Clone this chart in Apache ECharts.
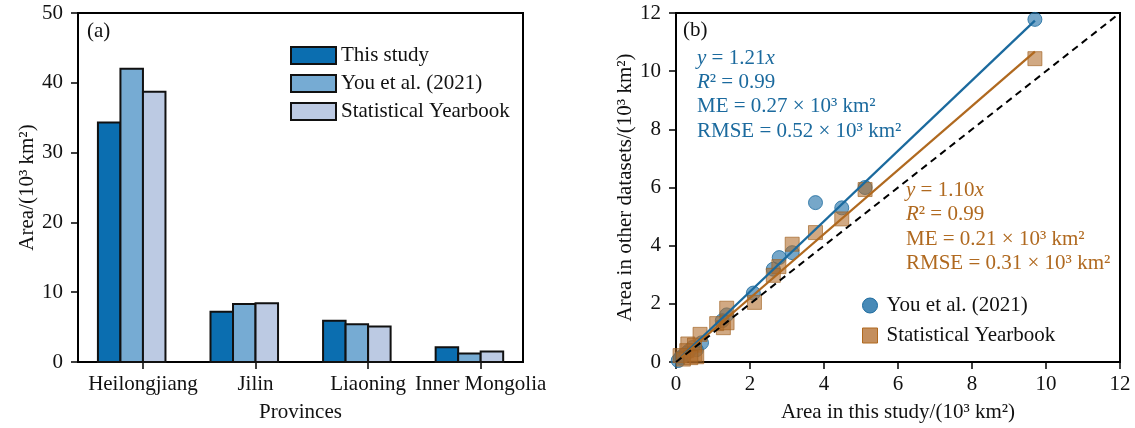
<!DOCTYPE html>
<html>
<head>
<meta charset="utf-8">
<title>Area comparison</title>
<script src="https://cdn.jsdelivr.net/npm/echarts@6/dist/echarts.min.js"></script>
<style>
  html, body { margin: 0; padding: 0; background: #fff; }
  #chart { width: 1135px; height: 428px; }
</style>
</head>
<body>
<div id="chart"></div>
<script>
// (a) bars, area in 10^3 km2
const provinces = ['Heilongjiang', 'Jilin', 'Liaoning', 'Inner Mongolia'];
const thisStudy = [34.3, 7.2, 5.9, 2.1];
const youEtAl = [42.0, 8.3, 5.4, 1.2];
const yearbook = [38.7, 8.4, 5.1, 1.5];
const barNames = ['This study', 'You et al. (2021)', 'Statistical Yearbook'];

// (b) scatter: [this study, other dataset]
const youPoints = [
  [9.70, 11.78], [5.11, 6.00], [4.48, 5.30], [3.77, 5.48], [2.79, 3.59],
  [3.14, 3.76], [2.63, 3.19], [2.09, 2.37], [1.37, 1.62], [1.25, 1.42],
  [0.69, 0.66], [0.55, 0.42], [0.45, 0.50], [0.35, 0.38], [0.28, 0.30],
  [0.20, 0.22], [0.12, 0.15], [0.06, 0.05]
];
const yearbookPoints = [
  [9.70, 10.43], [5.11, 5.93], [4.48, 4.92], [3.77, 4.45], [3.14, 4.05],
  [2.78, 3.28], [2.63, 2.98], [2.12, 2.05], [1.37, 1.85], [1.10, 1.32],
  [1.28, 1.18], [1.38, 1.35], [0.65, 0.95], [0.32, 0.62], [0.50, 0.58],
  [0.29, 0.39], [0.51, 0.27], [0.56, 0.18], [0.11, 0.22], [0.20, 0.10],
  [0.40, 0.15]
];
const youSlope = 1.21;
const yearbookSlope = 1.10;
const fitMaxX = 9.7;
const axisTicks = [0, 2, 4, 6, 8, 10, 12];

const FONT = 'Liberation Serif';
const barColors = ['#0b6eb0', '#76abd3', '#bccae3'];
const blue = '#1b6a9e';
const brown = '#b0691f';

const chart = echarts.init(document.getElementById('chart'));

function barItem(k, color) {
  return function (params, api) {
    const i = api.value(0);
    const v = api.value(1);
    const p0 = api.coord([i + (k - 2) * 0.2, v]);
    const p1 = api.coord([i + (k - 1) * 0.2, 0]);
    return {
      type: 'rect',
      shape: { x: p0[0], y: p0[1], width: p1[0] - p0[0], height: p1[1] - p0[1] },
      style: { fill: color, stroke: '#111', lineWidth: 2 }
    };
  };
}

const barSeries = [thisStudy, youEtAl, yearbook].map((vals, k) => ({
  name: barNames[k],
  type: 'custom',
  xAxisIndex: 0,
  yAxisIndex: 0,
  renderItem: barItem(k, barColors[k]),
  itemStyle: { color: barColors[k], borderColor: '#111', borderWidth: 2 },
  encode: { x: 0, y: 1 },
  data: vals.map((v, i) => [i, v]),
  z: 3
}));

const axisCommon = {
  axisLine: { onZero: false, lineStyle: { color: '#000', width: 2 } },
  axisTick: { inside: false, length: 7, lineStyle: { color: '#000', width: 1.5 } },
  axisLabel: { color: '#111', fontFamily: FONT, fontSize: 21 },
  splitLine: { show: false },
  nameTextStyle: { color: '#111', fontFamily: FONT, fontSize: 21 },
  nameLocation: 'middle'
};

function txt(x, y, parts, color) {
  return {
    type: 'text',
    left: x,
    top: y - 12,
    style: {
      text: parts,
      fill: color,
      font: '21px "' + FONT + '"',
      rich: {
        i: { fontStyle: 'italic', fontFamily: FONT, fontSize: 21, fill: color, color: color },
        n: { fontFamily: FONT, fontSize: 21, fill: color, color: color }
      }
    }
  };
}

const option = {
  backgroundColor: '#fff',
  animation: false,
  textStyle: { fontFamily: FONT },
  grid: [
    { left: 78, right: 612, top: 13, bottom: 65, show: true, borderColor: '#000', borderWidth: 2, containLabel: false },
    { left: 676, right: 15, top: 13, bottom: 65, show: true, borderColor: '#000', borderWidth: 2, containLabel: false }
  ],
  xAxis: [
    Object.assign({}, axisCommon, {
      gridIndex: 0, type: 'value', min: -0.577, max: 3.376,
      name: 'Provinces', nameGap: 40,
      axisTick: Object.assign({}, axisCommon.axisTick, { customValues: [0, 1, 2, 3] }),
      axisLabel: Object.assign({}, axisCommon.axisLabel, {
        customValues: [0, 1, 2, 3], margin: 12,
        formatter: v => provinces[Math.round(v)]
      })
    }),
    Object.assign({}, axisCommon, {
      gridIndex: 1, type: 'value', min: 0, max: 12, interval: 2,
      name: 'Area in this study/(10³ km²)', nameGap: 40,
      axisLabel: Object.assign({}, axisCommon.axisLabel, { margin: 12 })
    })
  ],
  yAxis: [
    Object.assign({}, axisCommon, {
      gridIndex: 0, type: 'value', min: 0, max: 50, interval: 10,
      name: 'Area/(10³ km²)', nameGap: 40,
      axisLabel: Object.assign({}, axisCommon.axisLabel, { margin: 15 })
    }),
    Object.assign({}, axisCommon, {
      gridIndex: 1, type: 'value', min: 0, max: 12, interval: 2,
      name: 'Area in other datasets/(10³ km²)', nameGap: 37,
      axisLabel: Object.assign({}, axisCommon.axisLabel, { margin: 15 })
    })
  ],
  legend: [
    {
      left: 285, top: 40, orient: 'vertical', itemGap: 7,
      itemWidth: 45, itemHeight: 17,
      textStyle: { fontFamily: FONT, fontSize: 21, color: '#111' },
      data: barNames.map((n, k) => ({
        name: n, icon: 'rect',
        itemStyle: { color: barColors[k], borderColor: '#111', borderWidth: 2 }
      }))
    },
    {
      left: 857, top: 290, orient: 'vertical', itemGap: 9,
      itemWidth: 15, itemHeight: 15,
      textStyle: { fontFamily: FONT, fontSize: 21, color: '#111', padding: [0, 0, 0, 4] },
      data: [
        { name: 'You et al. (2021)', icon: 'circle',
          itemStyle: { color: 'rgba(40,118,170,0.85)', borderColor: blue, borderWidth: 1 } },
        { name: 'Statistical Yearbook', icon: 'rect',
          itemStyle: { color: 'rgba(176,106,40,0.75)', borderColor: brown, borderWidth: 1 } }
      ]
    }
  ],
  series: barSeries.concat([
    {
      name: 'You et al. (2021)', type: 'scatter', xAxisIndex: 1, yAxisIndex: 1,
      symbol: 'circle', symbolSize: 14,
      itemStyle: { color: 'rgba(40,118,170,0.8)', borderColor: blue, borderWidth: 1 },
      data: youPoints, z: 3
    },
    {
      name: 'Statistical Yearbook', type: 'scatter', xAxisIndex: 1, yAxisIndex: 1,
      symbol: 'rect', symbolSize: 14,
      itemStyle: { color: 'rgba(176,106,40,0.72)', borderColor: 'rgba(160,95,30,0.8)', borderWidth: 1 },
      data: yearbookPoints, z: 4
    },
    {
      name: 'fit-you', type: 'line', xAxisIndex: 1, yAxisIndex: 1,
      showSymbol: false, symbol: 'none', silent: true,
      lineStyle: { color: blue, width: 2.3 },
      data: [[0, 0], [fitMaxX, fitMaxX * youSlope]], z: 5
    },
    {
      name: 'fit-yearbook', type: 'line', xAxisIndex: 1, yAxisIndex: 1,
      showSymbol: false, symbol: 'none', silent: true,
      lineStyle: { color: brown, width: 2.3 },
      data: [[0, 0], [fitMaxX, fitMaxX * yearbookSlope]], z: 5
    },
    {
      name: '1:1', type: 'line', xAxisIndex: 1, yAxisIndex: 1,
      showSymbol: false, symbol: 'none', silent: true,
      lineStyle: { color: '#000', width: 2, type: [7, 5] },
      data: [[axisTicks[0], axisTicks[0]], [axisTicks[axisTicks.length - 1], axisTicks[axisTicks.length - 1]]], z: 5
    }
  ]),
  graphic: [
    txt(87, 33, '(a)', '#111'),
    txt(683, 32, '(b)', '#111'),
    txt(697, 60, '{i|y}{n| = 1.21}{i|x}', blue),
    txt(697, 84, '{i|R}{n|² = 0.99}', blue),
    txt(697, 108, 'ME = 0.27 × 10³ km²', blue),
    txt(697, 133, 'RMSE = 0.52 × 10³ km²', blue),
    txt(906, 192, '{i|y}{n| = 1.10}{i|x}', brown),
    txt(906, 216, '{i|R}{n|² = 0.99}', brown),
    txt(906, 241, 'ME = 0.21 × 10³ km²', brown),
    txt(906, 265, 'RMSE = 0.31 × 10³ km²', brown)
  ]
};

chart.setOption(option);
</script>
</body>
</html>
